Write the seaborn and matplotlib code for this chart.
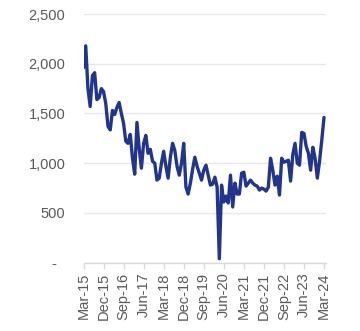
import matplotlib
matplotlib.use("Agg")
import matplotlib.pyplot as plt
import seaborn as sns
import pandas as pd

# Monthly series, Mar-2015 .. Mar-2024
values = [
    1960, 2180, 1750, 1570, 1880, 1910, 1640, 1660, 1750, 1720, 1600, 1370,
    1335, 1530, 1490, 1560, 1610, 1500, 1400, 1220, 1200, 1290, 1050, 890,
    1410, 1150, 950, 1200, 1280, 1100, 1140, 1020, 1000, 830, 850, 1000,
    1120, 970, 850, 1060, 1200, 1130, 970, 880, 1000, 1200, 760, 690,
    800, 940, 1060, 970, 900, 830, 930, 980, 880, 780, 790, 860,
    760, 40, 780, 610, 670, 600, 880, 560, 800, 690, 690, 900,
    910, 770, 800, 830, 800, 780, 770, 730, 750, 740, 720, 760,
    1050, 930, 780, 870, 680, 1050, 1010, 1020, 1030, 820, 1090, 1200,
    1000, 980, 1310, 1300, 1170, 1100, 930, 1160, 1050, 850, 1020, 1230,
    1460,
]

months = pd.date_range("2015-03-01", periods=len(values), freq="MS")
month_labels = [d.strftime("%b-%y") for d in months]
y_ticks = [0, 500, 1000, 1500, 2000, 2500]
y_tick_labels = ["-  ", "500", "1,000", "1,500", "2,000", "2,500"]

df = pd.DataFrame({"idx": range(len(values)), "value": values})

sns.set_theme(style="white")
plt.rcParams["font.family"] = ["Liberation Sans", "DejaVu Sans"]

text_color = "#595959"
fig = plt.figure(figsize=(3.6, 3.31), dpi=100)
ax = fig.add_axes([83.5 / 360, (331 - 262.7) / 331, 242.5 / 360, 248.7 / 331])

sns.lineplot(data=df, x="idx", y="value", ax=ax, color="#21358F",
             linewidth=2.4, solid_joinstyle="round")

ax.set_xlim(0, 108.9)
ax.set_ylim(0, 2500)

ax.set_yticks(y_ticks)
ax.set_yticklabels(y_tick_labels)
tick_pos = list(range(0, len(values), 9))
ax.set_xticks(tick_pos)
ax.set_xticklabels([month_labels[i] for i in tick_pos], rotation=90)

ax.yaxis.grid(True, color="#E8E8E8", linewidth=1.0)
ax.xaxis.grid(False)
for side in ["left", "right", "top"]:
    ax.spines[side].set_visible(False)
ax.spines["bottom"].set_color("#D9D9D9")
ax.spines["bottom"].set_linewidth(1.0)

ax.tick_params(axis="y", length=0, pad=13, labelsize=10.5, labelcolor=text_color)
ax.tick_params(axis="x", length=4, width=1, color="#D9D9D9", pad=3,
               labelsize=10.5, labelcolor=text_color, bottom=True)

ax.set_xlabel("")
ax.set_ylabel("")

fig.savefig("out.png", dpi=100)
